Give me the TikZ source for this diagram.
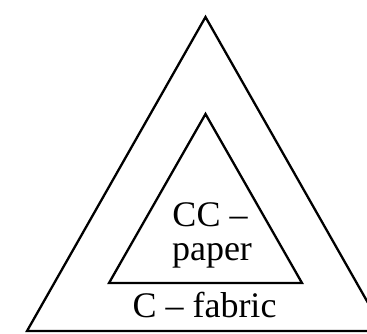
\documentclass[tikz,border=0pt]{standalone}
\usepackage{fontspec}
\setmainfont{Liberation Serif}
\usetikzlibrary{positioning}

\begin{document}
\begin{tikzpicture}[
  x=1pt, y=-1pt,
  tri/.style={draw, line width=2.3pt, line join=miter},
  txt/.style={font=\fontsize{36}{33}\selectfont, inner sep=0pt, anchor=base}
]
\clip (0,0) rectangle (367,333);
\coordinate (outtop) at (205.5,17);
\coordinate (outleft) at (27,331);
\coordinate (outright) at (384,331);
\coordinate (intop) at (205.5,114);
\coordinate (inleft) at (109,283);
\coordinate (inright) at (302,283);
\draw[tri] (outtop) -- (outleft) -- (outright) -- cycle;
\draw[tri] (intop) -- (inleft) -- (inright) -- cycle;
\node[txt] (cc) at (210,226) {CC --};
\node[txt] (paper) at (212,260) {paper};
\node[txt] (fabric) at (204.5,317) {C -- fabric};
\end{tikzpicture}
\end{document}
